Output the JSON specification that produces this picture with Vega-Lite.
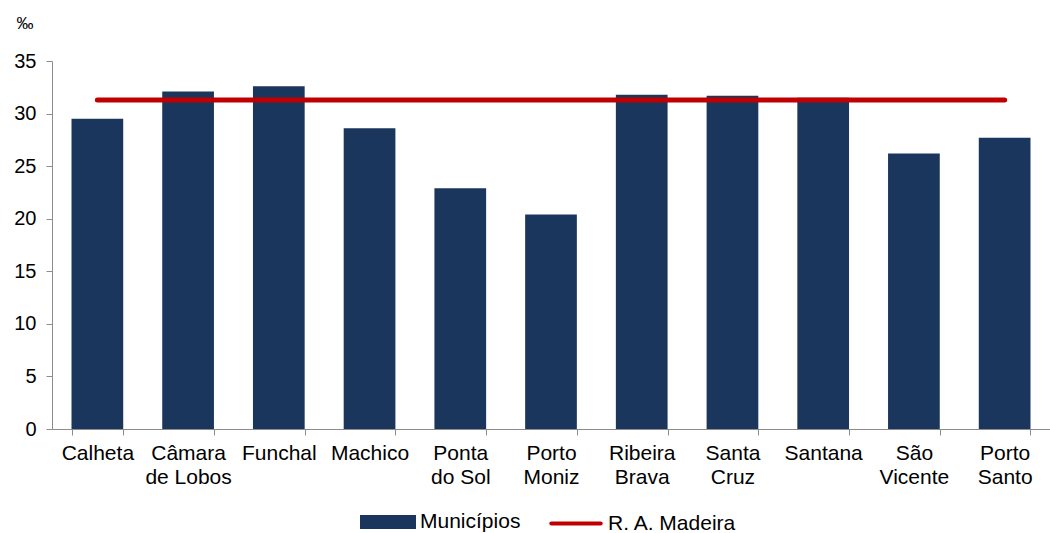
{
  "$schema": "https://vega.github.io/schema/vega-lite/v6.json",
  "width": 998,
  "height": 368,
  "autosize": "none",
  "padding": {"left": 52, "top": 61, "right": 0, "bottom": 104},
  "background": "white",
  "config": {
    "view": {"stroke": null},
    "font": "Liberation Sans",
    "axis": {"labelFont": "Liberation Sans", "labelFontSize": 21, "labelColor": "#000000", "domainColor": "#8C8C8C", "tickColor": "#8C8C8C", "grid": false}
  },
  "data": {
    "values": [
      {"municipio": "Calheta", "taxa": 29.5, "madeira": 31.3},
      {"municipio": "Câmara de Lobos", "taxa": 32.1, "madeira": 31.3},
      {"municipio": "Funchal", "taxa": 32.6, "madeira": 31.3},
      {"municipio": "Machico", "taxa": 28.6, "madeira": 31.3},
      {"municipio": "Ponta do Sol", "taxa": 22.9, "madeira": 31.3},
      {"municipio": "Porto Moniz", "taxa": 20.4, "madeira": 31.3},
      {"municipio": "Ribeira Brava", "taxa": 31.8, "madeira": 31.3},
      {"municipio": "Santa Cruz", "taxa": 31.7, "madeira": 31.3},
      {"municipio": "Santana", "taxa": 31.5, "madeira": 31.3},
      {"municipio": "São Vicente", "taxa": 26.2, "madeira": 31.3},
      {"municipio": "Porto Santo", "taxa": 27.7, "madeira": 31.3}
    ]
  },
  "encoding": {
    "x": {
      "field": "municipio", "type": "nominal", "sort": null,
      "scale": {"paddingInner": 0.43, "paddingOuter": 0.215},
      "axis": {
        "title": null, "labelAngle": 0, "tickBand": "extent", "tickSize": 6,
        "labelPadding": 7, "labelLineHeight": 24,
        "labelExpr": "indexof(datum.label, ' ') > 0 ? [substring(datum.label, 0, indexof(datum.label, ' ')), substring(datum.label, indexof(datum.label, ' ') + 1)] : datum.label"
      }
    }
  },
  "layer": [
    {
      "mark": {"type": "bar", "color": "#1B365D"},
      "encoding": {
        "y": {
          "field": "taxa", "type": "quantitative",
          "scale": {"domain": [0, 35]},
          "axis": {
            "values": [0, 5, 10, 15, 20, 25, 30, 35], "tickSize": 6, "labelPadding": 10, "labelFontSize": 20,
            "title": "‰", "titleAngle": 0, "titleAlign": "left", "titleBaseline": "middle",
            "titleAnchor": "end", "titleX": -36, "titleY": -38, "titleFontSize": 17, "titleFontWeight": "normal", "titleFont": "Liberation Sans"
          }
        },
        "color": {
          "datum": "Municípios",
          "scale": {"domain": ["Municípios", "R. A. Madeira"], "range": ["#1B365D", "#C00000"]},
          "legend": {
            "orient": "none", "legendX": 308, "legendY": 433, "title": null, "direction": "horizontal",
            "symbolSize": 2704, "labelFontSize": 21, "labelFont": "Liberation Sans", "labelColor": "#000000",
            "columnPadding": 22, "labelOffset": 4,
            "encode": {
              "symbols": {
                "update": {
                  "shape": {"signal": "datum.value === 'Municípios' ? 'M-1,-0.19H1V0.19H-1Z' : 'M-0.95,0H0.95'"},
                  "fill": {"signal": "datum.value === 'Municípios' ? '#1B365D' : 'transparent'"},
                  "stroke": {"signal": "datum.value === 'Municípios' ? 'transparent' : '#C00000'"},
                  "strokeWidth": {"value": 4},
                  "strokeCap": {"value": "round"},
                  "opacity": {"value": 1}
                }
              }
            }
          }
        }
      }
    },
    {
      "mark": {"type": "line", "strokeWidth": 5, "strokeCap": "round"},
      "encoding": {
        "y": {"field": "madeira", "type": "quantitative"},
        "color": {"datum": "R. A. Madeira"}
      }
    }
  ]
}
